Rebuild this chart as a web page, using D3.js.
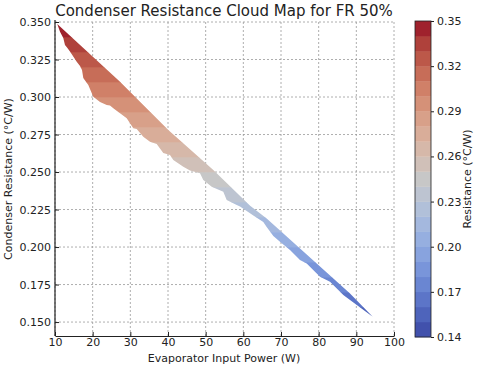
<!DOCTYPE html>
<html><head><meta charset="utf-8">
<script src="https://cdn.jsdelivr.net/npm/d3@7"></script>
<style>body{margin:0;background:#fff}text{font-family:"DejaVu Sans",sans-serif;fill:#222}</style>
</head><body><svg id="c" width="480" height="369"></svg>
<script>
// ---- data ----
const xTicks = [10,20,30,40,50,60,70,80,90,100];
const yTicks = [0.150,0.175,0.200,0.225,0.250,0.275,0.300,0.325,0.350];
const cbTicks = [0.14,0.17,0.20,0.23,0.26,0.29,0.32,0.35];
const levels = d3.range(0,22).map(i => +(0.14 + i*0.01).toFixed(2));
// upper edge of the resistance region (power W, resistance °C/W)
const upperPower = [10.6,27.26,40.08,52.03,61.8,66.2,79.48,88.32,94.35];
const upperRes   = [0.3487,0.3102,0.278,0.2513,0.2275,0.2191,0.1891,0.1691,0.1535];
// lower (jagged) edge, left to right
const lowerPower = [11.33,12.2,12.65,13.19,13.98,15.76,16.64,17.17,17.51,18.84,19.74,20.17,21.95,23.73,24.6,25.48,29.04,29.91,30.79,31.69,33.44,35.22,37.0,38.75,40.53,41.41,44.06,45.84,48.5,49.37,51.6,54.68,55.58,58.24,59.12,61.77,62.65,65.3,66.2,67.96,69.73,72.39,75.04,76.82,80.35,83.01,86.54,88.32];
const lowerRes   = [0.3435,0.3393,0.3347,0.333,0.3303,0.3235,0.3207,0.318,0.3127,0.308,0.3027,0.3002,0.2967,0.2947,0.2943,0.2925,0.2858,0.2825,0.2791,0.2787,0.2735,0.2702,0.2687,0.2627,0.2613,0.258,0.2535,0.251,0.2491,0.2447,0.2402,0.2369,0.2313,0.228,0.227,0.2225,0.221,0.2167,0.2133,0.2073,0.2035,0.198,0.1913,0.1891,0.1802,0.1769,0.168,0.1647];

// coolwarm colormap table
const cw = [[59,76,192],[68,90,204],[77,104,215],[87,117,225],[98,130,234],[108,142,241],[119,154,247],[130,165,251],[141,176,254],[152,185,255],[163,194,255],[174,201,253],[184,208,249],[194,213,244],[204,217,238],[213,219,230],[221,221,221],[229,216,209],[236,211,197],[241,204,185],[245,196,173],[247,187,160],[247,177,148],[247,166,135],[244,154,123],[241,141,111],[236,127,99],[229,112,88],[222,96,77],[213,80,66],[203,62,56],[192,40,47],[180,4,38]];
function coolwarm(t){
  t = Math.max(0,Math.min(1,t));
  const f = t*(cw.length-1), i = Math.min(cw.length-2, Math.floor(f)), r = f-i;
  const c = cw[i].map((v,k)=> v + (cw[i+1][k]-v)*r);
  const g = (c[0]+c[1]+c[2])/3;
  const m = c.map(v => (v*0.88 + g*0.12)*0.9);
  return d3.rgb(m[0],m[1],m[2]).formatHex();
}
const lo = levels[0], hi = levels[levels.length-1];
const bandColor = (a,b) => coolwarm(((a+b)/2 - lo)/(hi-lo));

const svg = d3.select("#c");
const x = d3.scaleLinear().domain([10,100]).range([55,394]);
const y = d3.scaleLinear().domain([0.1407,0.35]).range([336,22]);

// grid
const grid = svg.append("g").attr("stroke","#999").attr("stroke-width",0.8).attr("stroke-dasharray","2,2");
xTicks.forEach(v => grid.append("line").attr("x1",x(v)).attr("x2",x(v)).attr("y1",y.range()[0]).attr("y2",y.range()[1]));
yTicks.forEach(v => grid.append("line").attr("x1",55).attr("x2",394).attr("y1",y(v)).attr("y2",y(v)));

// region polygon
const pts = upperPower.map((p,i)=>[p,upperRes[i]]).concat(lowerPower.map((p,i)=>[p,lowerRes[i]]).reverse());
const line = d3.line().x(d=>x(d[0])).y(d=>y(d[1]));
svg.append("clipPath").attr("id","reg").append("path").attr("d", line(pts)+"Z");
const bands = svg.append("g").attr("clip-path","url(#reg)");
for(let i=0;i<levels.length-1;i++){
  const a=levels[i], b=levels[i+1];
  bands.append("rect").attr("x",55).attr("width",339)
    .attr("y",y(b)).attr("height",y(a)-y(b)+0.3).attr("fill",bandColor(a,b));
}

// axes
const xAxis = d3.axisBottom(x).tickValues(xTicks).tickFormat(d3.format("d")).tickSizeInner(-4).tickSizeOuter(0).tickPadding(2);
const gx = svg.append("g").attr("transform","translate(0,336)").call(xAxis);
const yAxis = d3.axisLeft(y).tickValues(yTicks).tickFormat(d3.format(".3f")).tickSizeInner(-4).tickSizeOuter(0).tickPadding(4);
const gy = svg.append("g").attr("transform","translate(55,0)").call(yAxis);
[gx,gy].forEach(g=>{g.selectAll("text").attr("font-size",11).attr("font-family","DejaVu Sans").attr("fill","#222");
  g.selectAll("line").attr("stroke","#222"); g.select(".domain").attr("stroke","#222").attr("stroke-width",1.2);});
gy.select(".domain").attr("d","M0,336V20");

// titles
svg.append("text").attr("x",224).attr("y",16).attr("text-anchor","middle").attr("font-size",15).text("Condenser Resistance Cloud Map for FR 50%");
svg.append("text").attr("x",224).attr("y",362).attr("text-anchor","middle").attr("font-size",11).text("Evaporator Input Power (W)");
svg.append("text").attr("transform","translate(12,179) rotate(-90)").attr("text-anchor","middle").attr("font-size",11).text("Condenser Resistance (°C/W)");

// colorbar
const cb = d3.scaleLinear().domain([lo,hi]).range([337,21]);
const cbg = svg.append("g");
for(let i=0;i<levels.length-1;i++){
  const a=levels[i], b=levels[i+1];
  cbg.append("rect").attr("x",415).attr("width",16).attr("y",cb(b)).attr("height",cb(a)-cb(b)+0.3).attr("fill",bandColor(a,b));
}
cbg.append("rect").attr("x",415).attr("width",16).attr("y",21).attr("height",316).attr("fill","none").attr("stroke","#222").attr("stroke-width",0.8);
const cAxis = d3.axisRight(cb).tickValues(cbTicks).tickFormat(d3.format(".2f")).tickSize(3).tickPadding(3);
const gc = svg.append("g").attr("transform","translate(431,0)").call(cAxis);
gc.select(".domain").remove();
gc.selectAll("text").attr("font-size",11).attr("font-family","DejaVu Sans").attr("fill","#222");
gc.selectAll("line").attr("stroke","#222");
svg.append("text").attr("transform","translate(471,179) rotate(-90)").attr("text-anchor","middle").attr("font-size",11).text("Resistance (°C/W)");
</script></body></html>
